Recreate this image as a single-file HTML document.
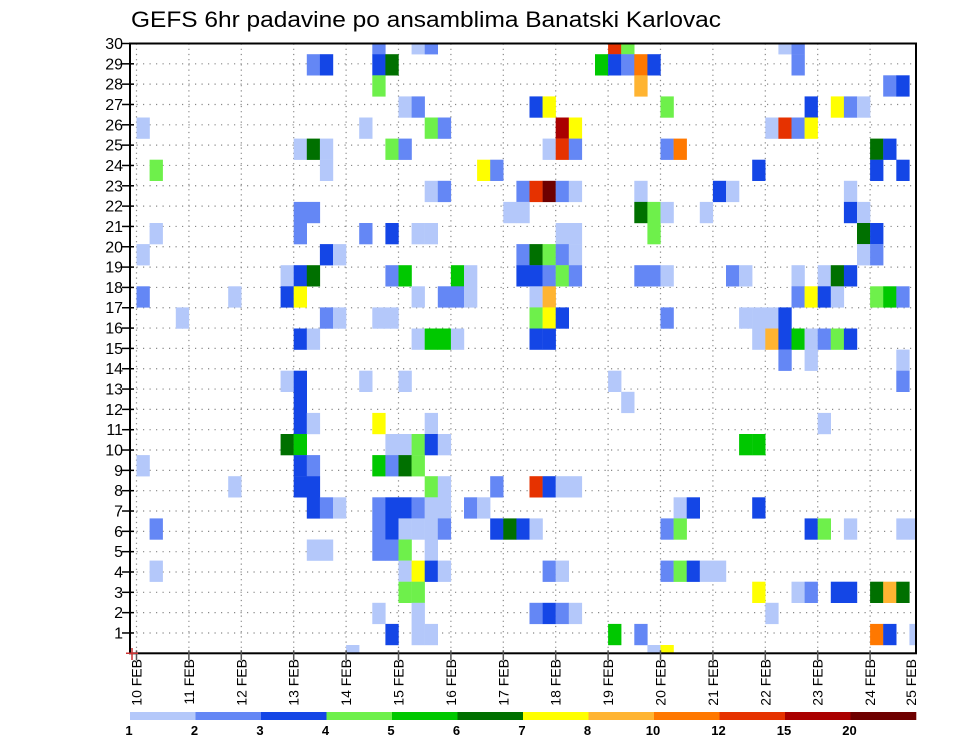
<!DOCTYPE html>
<html><head><meta charset="utf-8">
<style>
html,body{margin:0;padding:0;background:#fff;}
svg{display:block;font-family:"Liberation Sans",sans-serif;}
</style></head>
<body>
<svg id="chart" width="960" height="742" viewBox="0 0 960 742" xmlns="http://www.w3.org/2000/svg">
<rect x="0" y="0" width="960" height="742" fill="#fff"/>
<text x="131" y="27" font-size="22" textLength="590" lengthAdjust="spacingAndGlyphs" fill="#000">GEFS 6hr padavine po ansamblima Banatski Karlovac</text>
<defs><clipPath id="plotclip"><rect x="130" y="43.5" width="786" height="610"/></clipPath></defs>
<g id="grid"></g>
<g id="cells" clip-path="url(#plotclip)"></g>
<g id="axes"></g>
<g id="legend"></g>
</svg>
<script>
// ---- data ----
const dayLabels = ["10 FEB","11 FEB","12 FEB","13 FEB","14 FEB","15 FEB","16 FEB","17 FEB","18 FEB","19 FEB","20 FEB","21 FEB","22 FEB","23 FEB","24 FEB","25 FEB"];
const memberTicks = [1,2,3,4,5,6,7,8,9,10,11,12,13,14,15,16,17,18,19,20,21,22,23,24,25,26,27,28,29,30];
const levelLabels = ["1","2","3","4","5","6","7","8","10","12","15","20"];
const levelBounds = [1,2,3,4,5,6,7,8,10,12,15,20,1000];
const levelColors = ["#b4c8fa","#6487f5","#1446e6","#6ef04b","#00c800","#007000","#ffff00","#ffb432","#ff7800","#e63200","#aa0000","#6e0000"];
// cells: member index, time step (6h), precipitation value
const cellMember = [
29,29,29,29,29,29,29,
28,28,28,28,28,28,28,28,28,28,
27,27,27,27,
26,26,26,26,26,26,26,26,26,
25,25,25,25,25,25,25,25,25,25,
24,24,24,24,24,24,24,24,24,24,24,24,
23,23,23,23,23,23,23,
22,22,22,22,22,22,22,22,22,22,22,
21,21,21,21,21,21,21,21,21,21,
20,20,20,20,20,20,20,20,20,20,20,
19,19,19,19,19,19,19,19,19,19,
18,18,18,18,18,18,18,18,18,18,18,18,18,18,18,18,18,18,18,18,18,
17,17,17,17,17,17,17,17,17,17,17,17,17,17,17,17,17,
16,16,16,16,16,16,16,16,16,16,16,16,16,
15,15,15,15,15,15,15,15,15,15,15,15,15,15,15,15,
14,14,14,
13,13,13,13,13,13,
12,12,
11,11,11,11,11,
10,10,10,10,10,10,10,10,10,
9,9,9,9,9,9,9,
8,8,8,8,8,8,8,8,8,8,
7,7,7,7,7,7,7,7,7,7,7,7,7,7,
6,6,6,6,6,6,6,6,6,6,6,6,6,6,6,6,6,6,
5,5,5,5,5,5,
4,4,4,4,4,4,4,4,4,4,4,4,
3,3,3,3,3,3,3,3,3,3,
2,2,2,2,2,2,2,
1,1,1,1,1,1,1,1,
0,0,0];
const cellStep = [
18,21,22,36,37,49,50,
13,14,18,19,35,36,37,38,39,50,
18,38,57,58,
20,21,30,31,40,51,53,54,55,
0,17,22,23,32,33,48,49,50,51,
12,13,14,19,20,31,32,33,40,41,56,57,
1,14,26,27,47,56,58,
22,23,29,30,31,32,33,38,44,45,54,
12,13,28,29,38,39,40,43,54,55,
1,12,17,19,21,22,32,33,39,55,56,
0,14,15,29,30,31,32,33,55,56,
11,12,13,19,20,24,25,29,30,31,32,33,38,39,40,45,46,50,52,53,54,
0,7,11,12,21,23,24,25,30,31,50,51,52,53,56,57,58,
3,14,15,18,19,30,31,32,40,46,47,48,49,
12,13,21,22,23,24,30,31,47,48,49,50,51,52,53,54,
49,51,58,
11,12,17,20,36,58,
12,37,
12,13,18,22,52,
11,12,19,20,21,22,23,46,47,
0,12,13,18,19,20,21,
7,12,13,22,23,27,30,31,32,33,
13,14,15,18,19,20,21,22,23,25,26,41,42,47,
1,18,19,20,21,22,23,27,28,29,30,40,41,51,52,54,58,59,
13,14,18,19,20,22,
1,20,21,22,23,31,32,40,41,42,43,44,
20,21,47,50,51,53,54,56,57,58,
18,21,30,31,32,33,48,
19,21,22,36,38,56,57,59,
16,39,40];
const cellValue = [
2.5,1.5,2.5,13.5,4.5,1.5,2.5,
2.5,3.5,3.5,6.5,5.5,3.5,2.5,11,3.5,2.5,
4.5,9,2.5,3.5,
1.5,2.5,3.5,7.5,4.5,3.5,7.5,2.5,1.5,
1.5,1.5,4.5,2.5,17.5,7.5,1.5,13.5,2.5,7.5,
1.5,6.5,1.5,4.5,2.5,1.5,13.5,2.5,2.5,11,6.5,3.5,
4.5,1.5,7.5,2.5,3.5,3.5,3.5,
1.5,2.5,2.5,13.5,25,2.5,1.5,1.5,3.5,1.5,1.5,
2.5,2.5,1.5,1.5,6.5,4.5,1.5,1.5,3.5,1.5,
1.5,2.5,2.5,3.5,1.5,1.5,1.5,1.5,4.5,6.5,3.5,
1.5,3.5,1.5,2.5,6.5,4.5,2.5,1.5,1.5,2.5,
1.5,3.5,6.5,2.5,5.5,5.5,1.5,3.5,3.5,2.5,4.5,2.5,2.5,2.5,1.5,2.5,1.5,1.5,1.5,6.5,3.5,
2.5,1.5,3.5,7.5,1.5,2.5,2.5,1.5,1.5,9,2.5,7.5,3.5,1.5,4.5,5.5,2.5,
1.5,2.5,1.5,1.5,1.5,4.5,7.5,3.5,2.5,1.5,1.5,1.5,3.5,
3.5,1.5,1.5,5.5,5.5,1.5,3.5,3.5,1.5,9,3.5,5.5,1.5,2.5,4.5,3.5,
2.5,1.5,1.5,
1.5,3.5,1.5,1.5,1.5,2.5,
3.5,1.5,
3.5,1.5,7.5,1.5,1.5,
6.5,5.5,1.5,1.5,4.5,3.5,1.5,5.5,5.5,
1.5,3.5,2.5,5.5,2.5,6.5,4.5,
1.5,3.5,3.5,4.5,1.5,2.5,13.5,3.5,1.5,1.5,
3.5,2.5,1.5,2.5,3.5,3.5,2.5,1.5,1.5,2.5,1.5,1.5,3.5,3.5,
2.5,2.5,3.5,1.5,1.5,1.5,2.5,3.5,6.5,3.5,1.5,2.5,4.5,3.5,4.5,1.5,1.5,1.5,
1.5,1.5,2.5,2.5,4.5,1.5,
1.5,1.5,7.5,3.5,1.5,2.5,1.5,2.5,4.5,3.5,1.5,1.5,
4.5,4.5,7.5,1.5,2.5,3.5,3.5,6.5,9,6.5,
1.5,1.5,2.5,3.5,2.5,1.5,1.5,
3.5,1.5,1.5,5.5,2.5,11,3.5,1.5,
1.5,1.5,7.5];

// ---- geometry ----
const NS = "http://www.w3.org/2000/svg";
const PX0 = 130, PX1 = 916, PY0 = 43.5, PY1 = 653.3;
const DAY0 = 136.5, DAYW = 52.4, STEPW = DAYW / 4;
const CELL_BOTTOM = 645, CELLH = 21.1;
function xDay(d){ return DAY0 + d * DAYW; }
function xStep(i){ return DAY0 + i * STEPW; }
function yCellTop(k){ return CELL_BOTTOM - k * CELLH; }
function yTick(r){ return PY1 - r * (PY1 - PY0) / 30; }
function colorFor(v){
  for (let j = 0; j < levelColors.length; j++) if (v < levelBounds[j+1]) return levelColors[j];
  return levelColors[levelColors.length-1];
}
function mk(tag, attrs, parent){
  const e = document.createElementNS(NS, tag);
  for (const a in attrs) e.setAttribute(a, attrs[a]);
  parent.appendChild(e);
  return e;
}

// grid
const grid = document.getElementById('grid');
memberTicks.forEach(r => {
  const l = mk('line', {x1:PX0, x2:PX1, y1:yTick(r), y2:yTick(r), stroke:'#888', 'stroke-width':1.2, 'stroke-dasharray':'1.2 5.3'}, grid);
  
  
});
dayLabels.forEach((d, j) => {
  const x = xDay(j);
  if (x > PX1) return;
  const l = mk('line', {x1:x, x2:x, y1:PY0, y2:PY1, stroke:'#888', 'stroke-width':1.2, 'stroke-dasharray':'1.2 4'}, grid);
  
  
});

// cells
const cells = document.getElementById('cells');
for (let n = 0; n < cellValue.length; n++) {
  const r = mk('rect', {x:xStep(cellStep[n]), y:yCellTop(cellMember[n]), width:STEPW+0.2, height:CELLH+0.2, fill:colorFor(cellValue[n])}, cells);
  
  
}

// axes
const axes = document.getElementById('axes');
const frame = mk('rect', {x:PX0, y:PY0, width:PX1-PX0, height:PY1-PY0, fill:'none', stroke:'#000', 'stroke-width':2}, axes);


memberTicks.forEach(r => {
  const y = yTick(r);
  const t = mk('line', {x1:PX0-8, x2:PX0+4, y1:y, y2:y, stroke:'#000', 'stroke-width':1.5}, axes);
  
  
  const lb = mk('text', {x:PX0-7, y:y+5.5, 'font-size':16, 'text-anchor':'end', fill:'#000'}, axes);
  lb.textContent = r;
  
  
});
dayLabels.forEach((d, j) => {
  let x = xDay(j);
  if (x <= PX1) {
    const t = mk('line', {x1:x, x2:x, y1:PY1-3, y2:PY1+7, stroke:'#555', 'stroke-width':1.5}, axes);
    
    
  }
  if (x > 911) x = 911;
  const lb = mk('text', {x:0, y:0, 'font-size':14, 'text-anchor':'end', fill:'#000', transform:'translate('+(x+5)+',659) rotate(-90)'}, axes);
  lb.textContent = d;
  
  
});
const oc = mk('path', {d:'M126 653.3 H138 M132 648 V660', stroke:'#c33', 'stroke-width':1.5, fill:'none'}, axes);



// legend
const legend = document.getElementById('legend');
const LX0 = 130, LX1 = 916, LY = 712, LH = 8;
const segW = (LX1 - LX0) / levelColors.length;
levelColors.forEach((c, j) => {
  const s = mk('rect', {x:LX0 + j*segW, y:LY, width:segW+0.3, height:LH, fill:c}, legend);
  
  
});
levelLabels.forEach((t, j) => {
  const lb = mk('text', {x:LX0 + j*segW - 1, y:735, 'font-size':13, 'font-weight':'bold', 'text-anchor':'middle', fill:'#000'}, legend);
  lb.textContent = t;
  
  
});
</script>
</body></html>
